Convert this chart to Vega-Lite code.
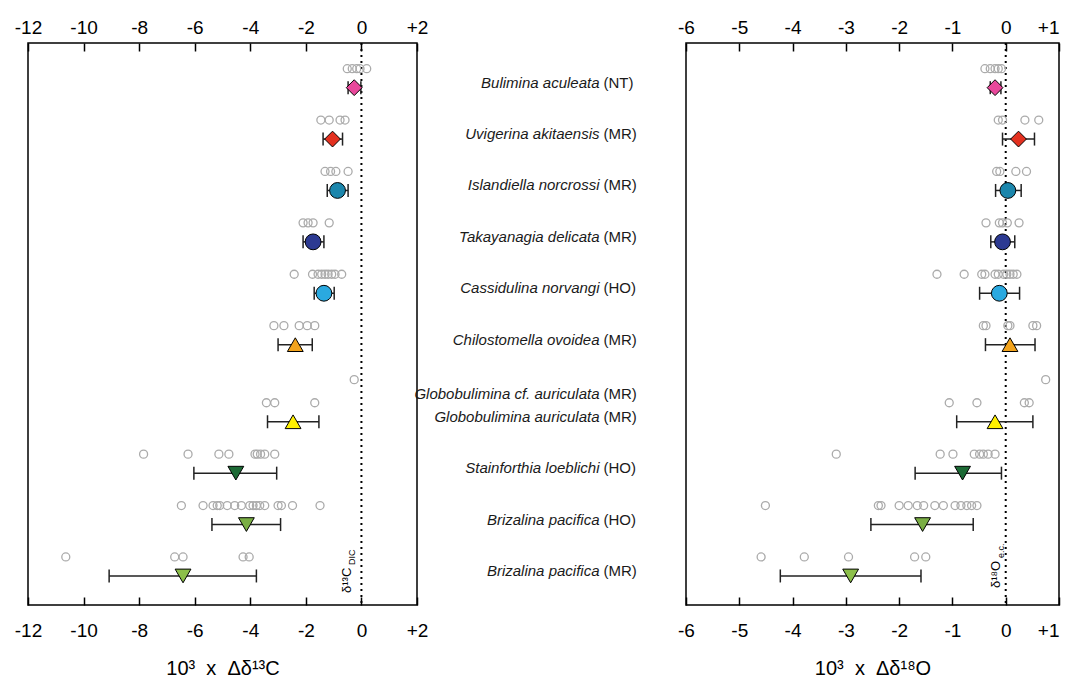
{
  "$schema": "https://vega.github.io/schema/vega-lite/v6.json",
  "padding": {"left": 13, "top": 17, "right": 4, "bottom": 4},
  "background": "white",
  "spacing": 0,
  "bounds": "flush",
  "config": {
    "font": "Liberation Sans",
    "view": {"stroke": null},
    "axis": {
      "domain": false, "grid": false, "tickColor": "black", "tickWidth": 1.5, "tickSize": 8, "offset": -8, "labelFlush": false,
      "labelFontSize": 19, "labelColor": "black", "labelFont": "Liberation Sans",
      "titleFont": "Liberation Sans", "titleFontSize": 20, "titleFontWeight": "normal", "titleColor": "black"
    }
  },
  "datasets": {
    "rawC": [
      {"row": 0, "v": -0.51}, {"row": 0, "v": -0.33}, {"row": 0, "v": -0.17}, {"row": 0, "v": -0.05}, {"row": 0, "v": 0.19},
      {"row": 1, "v": -1.46}, {"row": 1, "v": -1.16}, {"row": 1, "v": -0.77}, {"row": 1, "v": -0.59},
      {"row": 2, "v": -1.31}, {"row": 2, "v": -1.11}, {"row": 2, "v": -0.92}, {"row": 2, "v": -0.48},
      {"row": 3, "v": -2.10}, {"row": 3, "v": -1.92}, {"row": 3, "v": -1.74}, {"row": 3, "v": -1.16},
      {"row": 4, "v": -2.42}, {"row": 4, "v": -1.76}, {"row": 4, "v": -1.56}, {"row": 4, "v": -1.43}, {"row": 4, "v": -1.31}, {"row": 4, "v": -1.20}, {"row": 4, "v": -1.07}, {"row": 4, "v": -0.95}, {"row": 4, "v": -0.71},
      {"row": 5, "v": -3.15}, {"row": 5, "v": -2.79}, {"row": 5, "v": -2.24}, {"row": 5, "v": -1.95}, {"row": 5, "v": -1.68},
      {"row": 6.05, "v": -0.26},
      {"row": 6.5, "v": -3.42}, {"row": 6.5, "v": -3.12}, {"row": 6.5, "v": -1.68},
      {"row": 7.5, "v": -7.84}, {"row": 7.5, "v": -6.24}, {"row": 7.5, "v": -5.13}, {"row": 7.5, "v": -4.77}, {"row": 7.5, "v": -3.83}, {"row": 7.5, "v": -3.75}, {"row": 7.5, "v": -3.63}, {"row": 7.5, "v": -3.48}, {"row": 7.5, "v": -3.12},
      {"row": 8.5, "v": -6.48}, {"row": 8.5, "v": -5.70}, {"row": 8.5, "v": -5.34}, {"row": 8.5, "v": -5.19}, {"row": 8.5, "v": -5.10}, {"row": 8.5, "v": -4.83}, {"row": 8.5, "v": -4.56}, {"row": 8.5, "v": -4.32}, {"row": 8.5, "v": -4.02}, {"row": 8.5, "v": -3.90}, {"row": 8.5, "v": -3.78}, {"row": 8.5, "v": -3.66}, {"row": 8.5, "v": -3.48}, {"row": 8.5, "v": -3.00}, {"row": 8.5, "v": -2.88}, {"row": 8.5, "v": -2.48}, {"row": 8.5, "v": -1.49},
      {"row": 9.5, "v": -10.64}, {"row": 9.5, "v": -6.72}, {"row": 9.5, "v": -6.42}, {"row": 9.5, "v": -4.26}, {"row": 9.5, "v": -4.04}
    ],
    "rawO": [
      {"row": 0, "v": -0.39}, {"row": 0, "v": -0.29}, {"row": 0, "v": -0.20}, {"row": 0, "v": -0.14}, {"row": 0, "v": -0.08},
      {"row": 1, "v": -0.14}, {"row": 1, "v": -0.06}, {"row": 1, "v": 0.36}, {"row": 1, "v": 0.62},
      {"row": 2, "v": -0.17}, {"row": 2, "v": -0.11}, {"row": 2, "v": 0.19}, {"row": 2, "v": 0.39},
      {"row": 3, "v": -0.37}, {"row": 3, "v": -0.12}, {"row": 3, "v": -0.06}, {"row": 3, "v": 0.03}, {"row": 3, "v": 0.25},
      {"row": 4, "v": -1.29}, {"row": 4, "v": -0.78}, {"row": 4, "v": -0.45}, {"row": 4, "v": -0.39}, {"row": 4, "v": -0.20}, {"row": 4, "v": -0.14}, {"row": 4, "v": -0.04}, {"row": 4, "v": 0.02}, {"row": 4, "v": 0.08}, {"row": 4, "v": 0.14}, {"row": 4, "v": 0.21},
      {"row": 5, "v": -0.42}, {"row": 5, "v": -0.37}, {"row": 5, "v": 0.04}, {"row": 5, "v": 0.08}, {"row": 5, "v": 0.51}, {"row": 5, "v": 0.58},
      {"row": 6.05, "v": 0.75},
      {"row": 6.5, "v": -1.06}, {"row": 6.5, "v": -0.54}, {"row": 6.5, "v": 0.35}, {"row": 6.5, "v": 0.44},
      {"row": 7.5, "v": -3.18}, {"row": 7.5, "v": -1.23}, {"row": 7.5, "v": -0.99}, {"row": 7.5, "v": -0.59}, {"row": 7.5, "v": -0.49}, {"row": 7.5, "v": -0.42}, {"row": 7.5, "v": -0.33}, {"row": 7.5, "v": -0.20},
      {"row": 8.5, "v": -4.51}, {"row": 8.5, "v": -2.39}, {"row": 8.5, "v": -2.34}, {"row": 8.5, "v": -2.00}, {"row": 8.5, "v": -1.83}, {"row": 8.5, "v": -1.66}, {"row": 8.5, "v": -1.54}, {"row": 8.5, "v": -1.33}, {"row": 8.5, "v": -1.17}, {"row": 8.5, "v": -0.95}, {"row": 8.5, "v": -0.84}, {"row": 8.5, "v": -0.73}, {"row": 8.5, "v": -0.64}, {"row": 8.5, "v": -0.54},
      {"row": 9.5, "v": -4.59}, {"row": 9.5, "v": -3.78}, {"row": 9.5, "v": -2.95}, {"row": 9.5, "v": -1.71}, {"row": 9.5, "v": -1.50}
    ],
    "meanC": [
      {"sp": "Bulimina aculeata (NT)", "row": 0, "mean": -0.26, "lo": -0.48, "hi": -0.02},
      {"sp": "Uvigerina akitaensis (MR)", "row": 1, "mean": -1.04, "lo": -1.38, "hi": -0.68},
      {"sp": "Islandiella norcrossi (MR)", "row": 2, "mean": -0.86, "lo": -1.23, "hi": -0.48},
      {"sp": "Takayanagia delicata (MR)", "row": 3, "mean": -1.74, "lo": -2.10, "hi": -1.35},
      {"sp": "Cassidulina norvangi (HO)", "row": 4, "mean": -1.35, "lo": -1.70, "hi": -0.98},
      {"sp": "Chilostomella ovoidea (MR)", "row": 5, "mean": -2.38, "lo": -3.00, "hi": -1.77},
      {"sp": "Globobulimina auriculata (MR)", "row": 6.5, "mean": -2.46, "lo": -3.38, "hi": -1.53},
      {"sp": "Stainforthia loeblichi (HO)", "row": 7.5, "mean": -4.52, "lo": -6.03, "hi": -3.05},
      {"sp": "Brizalina pacifica (HO)", "row": 8.5, "mean": -4.14, "lo": -5.38, "hi": -2.91},
      {"sp": "Brizalina pacifica (MR)", "row": 9.5, "mean": -6.42, "lo": -9.08, "hi": -3.78}
    ],
    "meanO": [
      {"sp": "Bulimina aculeata (NT)", "row": 0, "mean": -0.20, "lo": -0.29, "hi": -0.09},
      {"sp": "Uvigerina akitaensis (MR)", "row": 1, "mean": 0.24, "lo": -0.06, "hi": 0.54},
      {"sp": "Islandiella norcrossi (MR)", "row": 2, "mean": 0.04, "lo": -0.19, "hi": 0.29},
      {"sp": "Takayanagia delicata (MR)", "row": 3, "mean": -0.06, "lo": -0.28, "hi": 0.17},
      {"sp": "Cassidulina norvangi (HO)", "row": 4, "mean": -0.12, "lo": -0.49, "hi": 0.26},
      {"sp": "Chilostomella ovoidea (MR)", "row": 5, "mean": 0.08, "lo": -0.38, "hi": 0.55},
      {"sp": "Globobulimina auriculata (MR)", "row": 6.5, "mean": -0.20, "lo": -0.92, "hi": 0.51},
      {"sp": "Stainforthia loeblichi (HO)", "row": 7.5, "mean": -0.81, "lo": -1.70, "hi": -0.08},
      {"sp": "Brizalina pacifica (HO)", "row": 8.5, "mean": -1.56, "lo": -2.53, "hi": -0.61},
      {"sp": "Brizalina pacifica (MR)", "row": 9.5, "mean": -2.91, "lo": -4.23, "hi": -1.59}
    ],
    "labels": [
      {"row": 0, "name": "Bulimina aculeata", "suffix": "(NT)"},
      {"row": 1, "name": "Uvigerina akitaensis", "suffix": "(MR)"},
      {"row": 2, "name": "Islandiella norcrossi", "suffix": "(MR)"},
      {"row": 3, "name": "Takayanagia delicata", "suffix": "(MR)"},
      {"row": 4, "name": "Cassidulina norvangi", "suffix": "(HO)"},
      {"row": 5, "name": "Chilostomella ovoidea", "suffix": "(MR)"},
      {"row": 6.05, "name": "Globobulimina cf. auriculata", "suffix": "(MR)"},
      {"row": 6.5, "name": "Globobulimina auriculata", "suffix": "(MR)"},
      {"row": 7.5, "name": "Stainforthia loeblichi", "suffix": "(HO)"},
      {"row": 8.5, "name": "Brizalina pacifica", "suffix": "(HO)"},
      {"row": 9.5, "name": "Brizalina pacifica", "suffix": "(MR)"}
    ]
  },
  "hconcat": [
    {
      "width": 389, "height": 562,
      "view": {"stroke": "black", "strokeWidth": 1.5},
      "resolve": {"axis": {"x": "independent"}},
      "layer": [
        {
          "data": {"values": [{}]},
          "mark": {"type": "rule", "strokeDash": [2, 4], "strokeWidth": 2, "color": "black"},
          "encoding": {"x": {"datum": 0, "type": "quantitative", "scale": {"domain": [-12, 2], "nice": false, "zero": false}, "axis": null}}
        },
        {
          "data": {"name": "rawC"},
          "mark": {"type": "point", "shape": "circle", "filled": false, "stroke": "#ababab", "strokeWidth": 1.3, "size": 64, "opacity": 1, "yOffset": -19},
          "encoding": {
            "x": {"field": "v", "type": "quantitative", "scale": {"domain": [-12, 2], "nice": false, "zero": false},
                  "axis": {"orient": "bottom", "values": [-12, -10, -8, -6, -4, -2, 0, 2], "labelExpr": "datum.value > 0 ? '+' + datum.value : '' + datum.value", "title": "10³\u00a0\u00a0x\u00a0\u00a0Δδ¹³C", "labelPadding": 16, "titlePadding": 18}},
            "y": {"field": "row", "type": "quantitative", "scale": {"domain": [-0.869, 10.065], "reverse": true, "nice": false, "zero": false}, "axis": null}
          }
        },
        {
          "data": {"name": "meanC"},
          "mark": {"type": "rule", "color": "#222", "strokeWidth": 1.5},
          "encoding": {
            "x": {"field": "lo", "type": "quantitative", "scale": {"domain": [-12, 2], "nice": false, "zero": false},
                  "axis": {"orient": "top", "values": [-12, -10, -8, -6, -4, -2, 0, 2], "labelExpr": "datum.value > 0 ? '+' + datum.value : '' + datum.value", "title": null, "labelPadding": 6}},
            "x2": {"field": "hi"},
            "y": {"field": "row", "type": "quantitative", "scale": {"domain": [-0.869, 10.065], "reverse": true, "nice": false, "zero": false}, "axis": null}
          }
        },
        {
          "data": {"name": "meanC"},
          "mark": {"type": "tick", "orient": "vertical", "size": 13, "thickness": 1.5, "color": "#222", "opacity": 1},
          "encoding": {
            "x": {"field": "lo", "type": "quantitative", "scale": {"domain": [-12, 2], "nice": false, "zero": false}, "axis": null},
            "y": {"field": "row", "type": "quantitative", "scale": {"domain": [-0.869, 10.065], "reverse": true, "nice": false, "zero": false}, "axis": null}
          }
        },
        {
          "data": {"name": "meanC"},
          "mark": {"type": "tick", "orient": "vertical", "size": 13, "thickness": 1.5, "color": "#222", "opacity": 1},
          "encoding": {
            "x": {"field": "hi", "type": "quantitative", "scale": {"domain": [-12, 2], "nice": false, "zero": false}, "axis": null},
            "y": {"field": "row", "type": "quantitative", "scale": {"domain": [-0.869, 10.065], "reverse": true, "nice": false, "zero": false}, "axis": null}
          }
        },
        {
          "data": {"name": "meanC"},
          "mark": {"type": "point", "filled": true, "stroke": "black", "strokeWidth": 1, "size": 250, "opacity": 1},
          "encoding": {
            "x": {"field": "mean", "type": "quantitative", "scale": {"domain": [-12, 2], "nice": false, "zero": false}, "axis": null},
            "y": {"field": "row", "type": "quantitative", "scale": {"domain": [-0.869, 10.065], "reverse": true, "nice": false, "zero": false}, "axis": null},
            "shape": {"field": "sp", "type": "nominal", "legend": null,
              "scale": {"domain": ["Bulimina aculeata (NT)", "Uvigerina akitaensis (MR)", "Islandiella norcrossi (MR)", "Takayanagia delicata (MR)", "Cassidulina norvangi (HO)", "Chilostomella ovoidea (MR)", "Globobulimina auriculata (MR)", "Stainforthia loeblichi (HO)", "Brizalina pacifica (HO)", "Brizalina pacifica (MR)"],
                        "range": ["diamond", "diamond", "circle", "circle", "circle", "triangle-up", "triangle-up", "triangle-down", "triangle-down", "triangle-down"]}},
            "fill": {"field": "sp", "type": "nominal", "legend": null,
              "scale": {"domain": ["Bulimina aculeata (NT)", "Uvigerina akitaensis (MR)", "Islandiella norcrossi (MR)", "Takayanagia delicata (MR)", "Cassidulina norvangi (HO)", "Chilostomella ovoidea (MR)", "Globobulimina auriculata (MR)", "Stainforthia loeblichi (HO)", "Brizalina pacifica (HO)", "Brizalina pacifica (MR)"],
                        "range": ["#E8489B", "#E3301F", "#1B86AC", "#2C3A92", "#2AA9E0", "#F2A31C", "#FFF000", "#1C6A35", "#7AAE44", "#8CBF4A"]}}
          }
        },
        {
          "data": {"values": [{}]},
          "mark": {"type": "text", "text": "δ¹³C", "angle": 270, "align": "left", "baseline": "bottom", "fontSize": 13, "dx": 12, "dy": -7, "color": "black"},
          "encoding": {
            "x": {"datum": 0, "type": "quantitative", "scale": {"domain": [-12, 2], "nice": false, "zero": false}, "axis": null},
            "y": {"datum": 10.065, "type": "quantitative", "scale": {"domain": [-0.869, 10.065], "reverse": true, "nice": false, "zero": false}, "axis": null}
          }
        },
        {
          "data": {"values": [{}]},
          "mark": {"type": "text", "text": "DIC", "angle": 270, "align": "left", "baseline": "bottom", "fontSize": 9, "dx": 40, "dy": -4, "color": "black"},
          "encoding": {
            "x": {"datum": 0, "type": "quantitative", "scale": {"domain": [-12, 2], "nice": false, "zero": false}, "axis": null},
            "y": {"datum": 10.065, "type": "quantitative", "scale": {"domain": [-0.869, 10.065], "reverse": true, "nice": false, "zero": false}, "axis": null}
          }
        }
      ]
    },
    {
      "width": 269, "height": 562,
      "data": {"name": "labels"},
      "layer": [
        {
          "mark": {"type": "text", "align": "right", "baseline": "middle", "fontStyle": "italic", "fontSize": 15, "dx": 48, "dy": -5, "color": "#1a1a1a"},
          "encoding": {
            "y": {"field": "row", "type": "quantitative", "scale": {"domain": [-0.869, 10.065], "reverse": true, "nice": false, "zero": false}, "axis": null},
            "text": {"field": "name"}
          }
        },
        {
          "mark": {"type": "text", "align": "left", "baseline": "middle", "fontSize": 15, "dx": 52, "dy": -5, "color": "#1a1a1a"},
          "encoding": {
            "y": {"field": "row", "type": "quantitative", "scale": {"domain": [-0.869, 10.065], "reverse": true, "nice": false, "zero": false}, "axis": null},
            "text": {"field": "suffix"}
          }
        }
      ]
    },
    {
      "width": 373, "height": 562,
      "view": {"stroke": "black", "strokeWidth": 1.5},
      "resolve": {"axis": {"x": "independent"}},
      "layer": [
        {
          "data": {"values": [{}]},
          "mark": {"type": "rule", "strokeDash": [2, 4], "strokeWidth": 2, "color": "black"},
          "encoding": {"x": {"datum": 0, "type": "quantitative", "scale": {"domain": [-6, 1], "nice": false, "zero": false}, "axis": null}}
        },
        {
          "data": {"name": "rawO"},
          "mark": {"type": "point", "shape": "circle", "filled": false, "stroke": "#ababab", "strokeWidth": 1.3, "size": 64, "opacity": 1, "yOffset": -19},
          "encoding": {
            "x": {"field": "v", "type": "quantitative", "scale": {"domain": [-6, 1], "nice": false, "zero": false},
                  "axis": {"orient": "bottom", "values": [-6, -5, -4, -3, -2, -1, 0, 1], "labelExpr": "datum.value > 0 ? '+' + datum.value : '' + datum.value", "labelAlign": {"condition": {"test": "datum.value == 1", "value": "right"}, "value": "center"}, "title": "10³\u00a0\u00a0x\u00a0\u00a0Δδ¹⁸O", "labelPadding": 16, "titlePadding": 18}},
            "y": {"field": "row", "type": "quantitative", "scale": {"domain": [-0.869, 10.065], "reverse": true, "nice": false, "zero": false}, "axis": null}
          }
        },
        {
          "data": {"name": "meanO"},
          "mark": {"type": "rule", "color": "#222", "strokeWidth": 1.5},
          "encoding": {
            "x": {"field": "lo", "type": "quantitative", "scale": {"domain": [-6, 1], "nice": false, "zero": false},
                  "axis": {"orient": "top", "values": [-6, -5, -4, -3, -2, -1, 0, 1], "labelExpr": "datum.value > 0 ? '+' + datum.value : '' + datum.value", "labelAlign": {"condition": {"test": "datum.value == 1", "value": "right"}, "value": "center"}, "title": null, "labelPadding": 6}},
            "x2": {"field": "hi"},
            "y": {"field": "row", "type": "quantitative", "scale": {"domain": [-0.869, 10.065], "reverse": true, "nice": false, "zero": false}, "axis": null}
          }
        },
        {
          "data": {"name": "meanO"},
          "mark": {"type": "tick", "orient": "vertical", "size": 13, "thickness": 1.5, "color": "#222", "opacity": 1},
          "encoding": {
            "x": {"field": "lo", "type": "quantitative", "scale": {"domain": [-6, 1], "nice": false, "zero": false}, "axis": null},
            "y": {"field": "row", "type": "quantitative", "scale": {"domain": [-0.869, 10.065], "reverse": true, "nice": false, "zero": false}, "axis": null}
          }
        },
        {
          "data": {"name": "meanO"},
          "mark": {"type": "tick", "orient": "vertical", "size": 13, "thickness": 1.5, "color": "#222", "opacity": 1},
          "encoding": {
            "x": {"field": "hi", "type": "quantitative", "scale": {"domain": [-6, 1], "nice": false, "zero": false}, "axis": null},
            "y": {"field": "row", "type": "quantitative", "scale": {"domain": [-0.869, 10.065], "reverse": true, "nice": false, "zero": false}, "axis": null}
          }
        },
        {
          "data": {"name": "meanO"},
          "mark": {"type": "point", "filled": true, "stroke": "black", "strokeWidth": 1, "size": 250, "opacity": 1},
          "encoding": {
            "x": {"field": "mean", "type": "quantitative", "scale": {"domain": [-6, 1], "nice": false, "zero": false}, "axis": null},
            "y": {"field": "row", "type": "quantitative", "scale": {"domain": [-0.869, 10.065], "reverse": true, "nice": false, "zero": false}, "axis": null},
            "shape": {"field": "sp", "type": "nominal", "legend": null,
              "scale": {"domain": ["Bulimina aculeata (NT)", "Uvigerina akitaensis (MR)", "Islandiella norcrossi (MR)", "Takayanagia delicata (MR)", "Cassidulina norvangi (HO)", "Chilostomella ovoidea (MR)", "Globobulimina auriculata (MR)", "Stainforthia loeblichi (HO)", "Brizalina pacifica (HO)", "Brizalina pacifica (MR)"],
                        "range": ["diamond", "diamond", "circle", "circle", "circle", "triangle-up", "triangle-up", "triangle-down", "triangle-down", "triangle-down"]}},
            "fill": {"field": "sp", "type": "nominal", "legend": null,
              "scale": {"domain": ["Bulimina aculeata (NT)", "Uvigerina akitaensis (MR)", "Islandiella norcrossi (MR)", "Takayanagia delicata (MR)", "Cassidulina norvangi (HO)", "Chilostomella ovoidea (MR)", "Globobulimina auriculata (MR)", "Stainforthia loeblichi (HO)", "Brizalina pacifica (HO)", "Brizalina pacifica (MR)"],
                        "range": ["#E8489B", "#E3301F", "#1B86AC", "#2C3A92", "#2AA9E0", "#F2A31C", "#FFF000", "#1C6A35", "#7AAE44", "#8CBF4A"]}}
          }
        },
        {
          "data": {"values": [{}]},
          "mark": {"type": "text", "text": "δ¹⁸O", "angle": 270, "align": "left", "baseline": "bottom", "fontSize": 13, "dx": 17, "dy": -3, "color": "black"},
          "encoding": {
            "x": {"datum": 0, "type": "quantitative", "scale": {"domain": [-6, 1], "nice": false, "zero": false}, "axis": null},
            "y": {"datum": 10.065, "type": "quantitative", "scale": {"domain": [-0.869, 10.065], "reverse": true, "nice": false, "zero": false}, "axis": null}
          }
        },
        {
          "data": {"values": [{}]},
          "mark": {"type": "text", "text": "e.c.", "angle": 270, "align": "left", "baseline": "bottom", "fontSize": 9, "dx": 47, "dy": 0, "color": "black"},
          "encoding": {
            "x": {"datum": 0, "type": "quantitative", "scale": {"domain": [-6, 1], "nice": false, "zero": false}, "axis": null},
            "y": {"datum": 10.065, "type": "quantitative", "scale": {"domain": [-0.869, 10.065], "reverse": true, "nice": false, "zero": false}, "axis": null}
          }
        }
      ]
    }
  ]
}
